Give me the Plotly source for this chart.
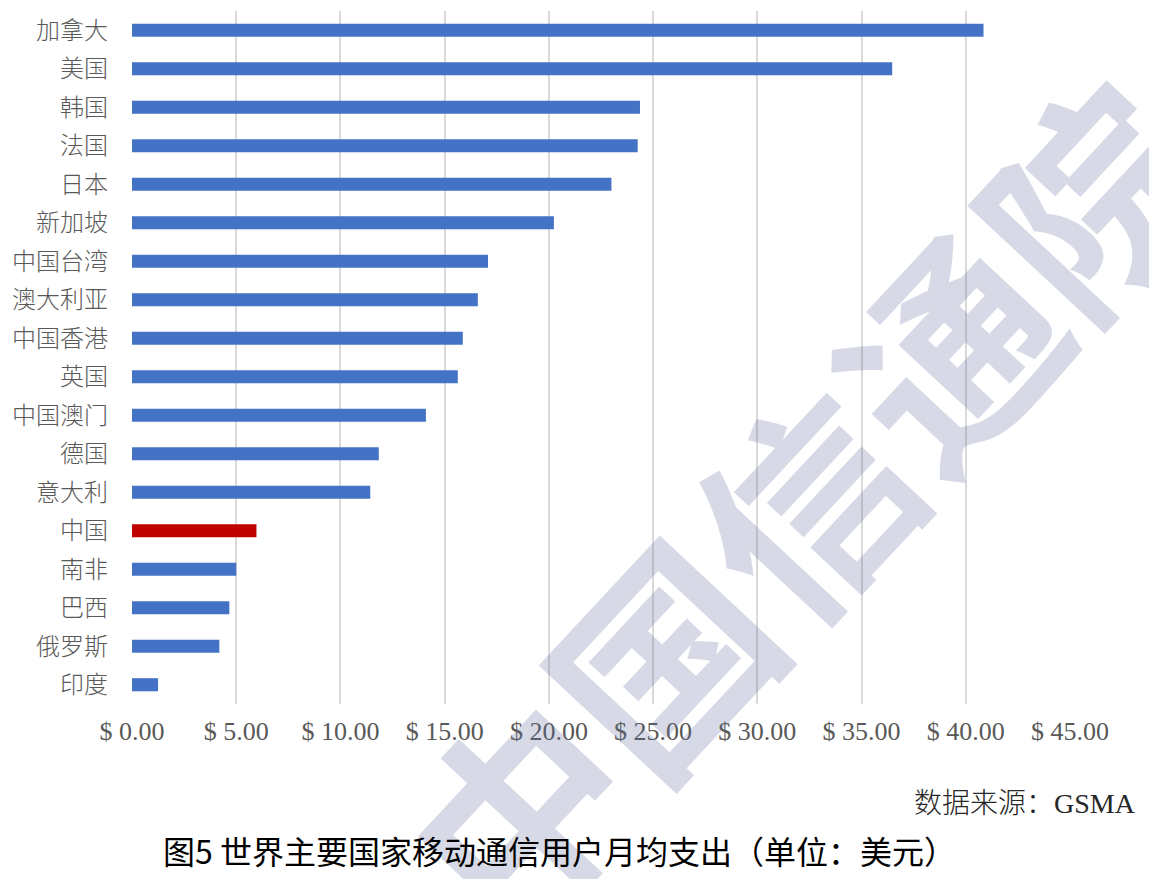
import plotly.graph_objects as go

# 国家/地区 (从上到下)
countries = ['加拿大', '美国', '韩国', '法国', '日本', '新加坡', '中国台湾', '澳大利亚',
             '中国香港', '英国', '中国澳门', '德国', '意大利', '中国', '南非', '巴西',
             '俄罗斯', '印度']
# 移动通信用户月均支出 (美元)
arpu = [40.85, 36.47, 24.37, 24.26, 23.0, 20.24, 17.08, 16.59,
        15.87, 15.63, 14.10, 11.84, 11.43, 5.97, 5.0, 4.67,
        4.19, 1.25]
tick_vals = [0, 5, 10, 15, 20, 25, 30, 35, 40, 45]
tick_text = ['$ %.2f' % v for v in tick_vals]

highlight = '中国'
colors = ['#C00000' if c == highlight else '#4472C4' for c in countries]

fig = go.Figure()
fig.add_trace(go.Bar(
    x=arpu,
    y=countries,
    orientation='h',
    marker=dict(color=colors, line=dict(width=0)),
    showlegend=False,
))

# page body has an 8px margin, so the figure is a bit smaller than the window
fig.update_layout(
    width=1149,
    height=871,
    margin=dict(l=123.5, r=86.5, t=3, b=175),
    paper_bgcolor='white',
    plot_bgcolor='white',
    bargap=0.66,
    xaxis=dict(
        range=[0, 45],
        tickvals=tick_vals,
        ticktext=tick_text,
        showgrid=True,
        gridcolor='#d9d9d9',
        gridwidth=1.5,
        zeroline=False,
        showline=False,
        ticks='',
        ticklabelstandoff=9,
        tickfont=dict(family='Liberation Serif', size=26, color='#595959'),
    ),
    yaxis=dict(
        categoryorder='array',
        categoryarray=countries,
        autorange='reversed',
        showgrid=False,
        zeroline=False,
        showline=False,
        ticks='',
        ticklabelstandoff=23,
        tickfont=dict(family='Noto Sans CJK SC', size=24, color='#595959', weight=300),
    ),
)

# 水印
fig.add_annotation(
    text='中国信通院', xref='paper', yref='paper', x=0.712, y=0.294,
    xanchor='center', yanchor='middle',
    showarrow=False, textangle=-47,
    font=dict(family='Noto Sans CJK SC', size=210, color='#5a6a9a', weight=700),
    opacity=0.24,
)

fig.add_annotation(
    text='数据来源：GSMA', xref='paper', yref='paper', x=1.072, y=-0.143,
    xanchor='right', yanchor='middle', showarrow=False,
    font=dict(family='Liberation Serif, Noto Sans CJK SC', size=28, color='#262626', weight=300),
)
fig.add_annotation(
    text='图5 世界主要国家移动通信用户月均支出（单位：美元）', xref='paper', yref='paper',
    x=0.456, y=-0.211, xanchor='center', yanchor='middle', showarrow=False,
    font=dict(family='Noto Sans CJK SC', size=32, color='#000000', weight=400),
)

fig.write_html('out.html')
